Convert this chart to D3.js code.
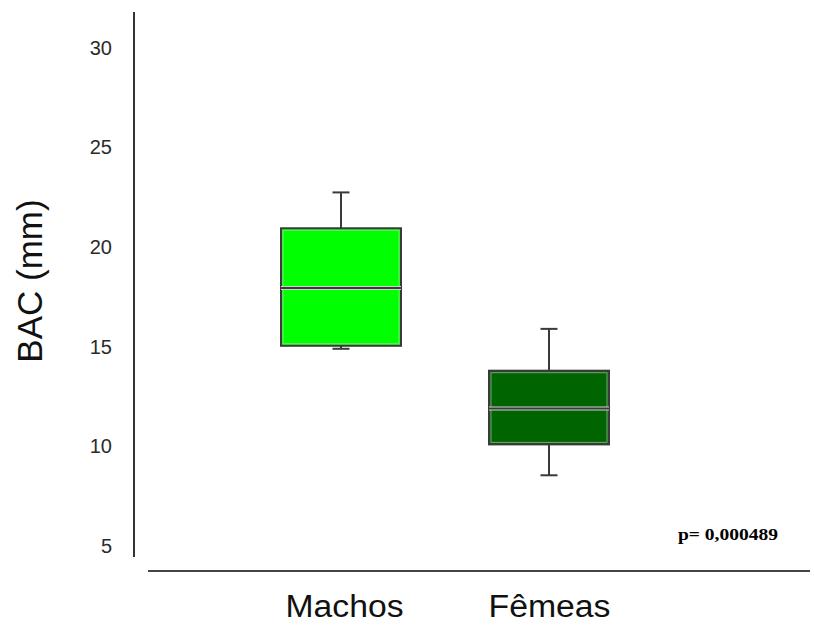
<!DOCTYPE html>
<html><head><meta charset="utf-8">
<script src="https://cdn.jsdelivr.net/npm/d3@7"></script>
<style>body{margin:0;background:#fff}svg{display:block}</style>
</head><body>
<script>
const categories = ["Machos", "Fêmeas"];
const whiskerLow = [14.85, 8.5];
const q1 = [15.0, 10.05];
const median = [17.9, 11.85];
const q3 = [20.9, 13.75];
const whiskerHigh = [22.7, 15.85];
const colors = ["#00ff00", "#006400"];
const yTicks = [5, 10, 15, 20, 25, 30];
const pText = "p= 0,000489";

const W = 814, H = 626;
const svg = d3.select("body").append("svg").attr("width", W).attr("height", H);
const y = d3.scaleLinear().domain([5, 30]).range([545, 47]);
const x = d3.scalePoint().domain(categories).range([341, 549]);
const boxW = 120, capW = 17;
const sans = "Arial, Liberation Sans, sans-serif";

// y axis line
svg.append("line").attr("x1", 134).attr("x2", 134).attr("y1", 12).attr("y2", 557)
  .attr("stroke", "#333").attr("stroke-width", 2);
// y tick labels
const yAxis = d3.axisLeft(y).tickValues(yTicks).tickSize(0).tickPadding(0);
const gy = svg.append("g").attr("transform", "translate(112,0)").call(yAxis);
gy.select(".domain").remove();
gy.selectAll("text").attr("font-family", sans)
  .attr("font-size", 20).attr("fill", "#2a2a2a").attr("dy", "0.36em");

// x axis line
svg.append("line").attr("x1", 148).attr("x2", 810).attr("y1", 571).attr("y2", 571)
  .attr("stroke", "#444").attr("stroke-width", 2);
// x labels
const xAxis = d3.axisBottom(x).tickSize(0).tickPadding(0);
const gx = svg.append("g").attr("transform", "translate(0,617)").call(xAxis);
gx.select(".domain").remove();
gx.selectAll("text").attr("font-family", sans)
  .attr("font-size", 31).attr("fill", "#111").attr("dy", "0")
  .attr("x", (d, i) => i === 0 ? 3 : 0)
  .attr("textLength", (d, i) => i === 0 ? 118 : 122)
  .attr("lengthAdjust", "spacingAndGlyphs");

// y label
svg.append("text").attr("transform", "translate(42,281) rotate(-90)")
  .attr("text-anchor", "middle").attr("font-family", sans)
  .attr("font-size", 35).attr("fill", "#111").text("BAC (mm)");

// boxes
categories.forEach((c, i) => {
  const cx = x(c);
  const g = svg.append("g");
  const st = "#3a3a3a";
  g.append("line").attr("x1", cx).attr("x2", cx).attr("y1", y(whiskerHigh[i])).attr("y2", y(q3[i]))
    .attr("stroke", st).attr("stroke-width", 2);
  g.append("line").attr("x1", cx).attr("x2", cx).attr("y1", y(q1[i])).attr("y2", y(whiskerLow[i]))
    .attr("stroke", st).attr("stroke-width", 2);
  g.append("line").attr("x1", cx - capW / 2).attr("x2", cx + capW / 2)
    .attr("y1", y(whiskerHigh[i])).attr("y2", y(whiskerHigh[i])).attr("stroke", st).attr("stroke-width", 2);
  g.append("line").attr("x1", cx - capW / 2).attr("x2", cx + capW / 2)
    .attr("y1", y(whiskerLow[i])).attr("y2", y(whiskerLow[i])).attr("stroke", st).attr("stroke-width", 2);
  g.append("rect").attr("x", cx - boxW / 2).attr("width", boxW)
    .attr("y", y(q3[i])).attr("height", y(q1[i]) - y(q3[i]))
    .attr("fill", colors[i]).attr("stroke", st).attr("stroke-width", 2);
  g.append("rect").attr("x", cx - boxW / 2 + 2).attr("width", boxW - 4)
    .attr("y", y(q3[i]) + 2).attr("height", y(q1[i]) - y(q3[i]) - 4)
    .attr("fill", "none").attr("stroke", "#cfcfcf").attr("stroke-width", 1).attr("opacity", 0.6);
  g.append("line").attr("x1", cx - boxW / 2).attr("x2", cx + boxW / 2)
    .attr("y1", y(median[i])).attr("y2", y(median[i])).attr("stroke", "#cfcfcf").attr("stroke-width", 4);
  g.append("line").attr("x1", cx - boxW / 2).attr("x2", cx + boxW / 2)
    .attr("y1", y(median[i])).attr("y2", y(median[i])).attr("stroke", st).attr("stroke-width", 2);
});

svg.append("text").attr("x", 678).attr("y", 540)
  .attr("font-family", "Liberation Serif, Times New Roman, serif").attr("font-weight", "bold")
  .attr("font-size", 17).attr("fill", "#000")
  .attr("textLength", 100).attr("lengthAdjust", "spacingAndGlyphs").text(pText);
</script>
</body></html>
